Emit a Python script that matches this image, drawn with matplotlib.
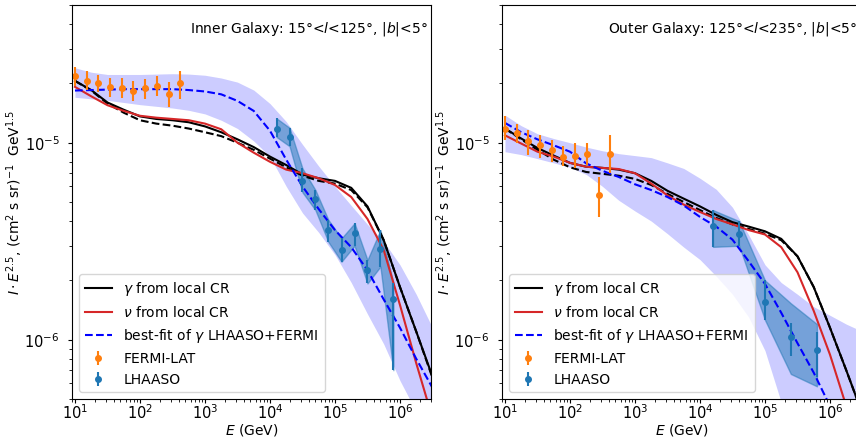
import numpy as np
import matplotlib
matplotlib.use("Agg")
import matplotlib.pyplot as plt

# ---- data ----
# common energy grid for model curves (log10 E / GeV)
loge_curve = [1.0, 1.25, 1.5, 1.75, 2.0, 2.25, 2.5, 2.75, 3.0, 3.25, 3.5, 3.75,
              4.0, 4.25, 4.5, 4.75, 5.0, 5.25, 5.5, 5.75, 6.0, 6.25, 6.5]

# inner galaxy
inner_gamma = [2.06e-5, 1.85e-5, 1.60e-5, 1.47e-5, 1.36e-5, 1.32e-5, 1.30e-5, 1.27e-5,
               1.21e-5, 1.13e-5, 1.04e-5, 9.5e-6, 8.5e-6, 7.7e-6, 6.9e-6, 6.6e-6,
               6.4e-6, 5.9e-6, 4.75e-6, 3.2e-6, 1.85e-6, 1.1e-6, 6.5e-7]
inner_gamma_dash = [2.06e-5, 1.84e-5, 1.58e-5, 1.42e-5, 1.30e-5, 1.25e-5, 1.22e-5, 1.18e-5,
                    1.13e-5, 1.08e-5, 1.0e-5, 9.2e-6, 8.3e-6, 7.5e-6, 6.8e-6, 6.4e-6,
                    6.2e-6, 5.75e-6, 4.7e-6, 3.2e-6, 1.85e-6, 1.1e-6, 6.4e-7]
inner_nu = [1.92e-5, 1.72e-5, 1.55e-5, 1.45e-5, 1.37e-5, 1.34e-5, 1.32e-5, 1.30e-5,
            1.25e-5, 1.17e-5, 1.0e-5, 8.9e-6, 8.0e-6, 7.3e-6, 7.0e-6, 6.6e-6,
            6.1e-6, 5.3e-6, 4.1e-6, 2.85e-6, 1.5e-6, 7.6e-7, 4.0e-7]
inner_fit = [1.84e-5, 1.85e-5, 1.86e-5, 1.87e-5, 1.87e-5, 1.87e-5, 1.87e-5, 1.85e-5,
             1.82e-5, 1.76e-5, 1.63e-5, 1.45e-5, 1.15e-5, 8.2e-6, 6.0e-6, 4.6e-6,
             3.6e-6, 2.95e-6, 2.25e-6, 1.6e-6, 1.15e-6, 8.0e-7, 5.7e-7]
inner_band_hi = [2.40e-5, 2.28e-5, 2.22e-5, 2.22e-5, 2.22e-5, 2.23e-5, 2.24e-5, 2.23e-5,
                 2.20e-5, 2.13e-5, 2.03e-5, 1.85e-5, 1.58e-5, 1.28e-5, 9.8e-6, 7.6e-6,
                 6.0e-6, 4.8e-6, 3.85e-6, 3.15e-6, 2.4e-6, 1.7e-6, 1.15e-6]
inner_band_lo = [1.70e-5, 1.67e-5, 1.64e-5, 1.60e-5, 1.56e-5, 1.53e-5, 1.50e-5, 1.46e-5,
                 1.40e-5, 1.30e-5, 1.18e-5, 1.02e-5, 8.5e-6, 6.0e-6, 4.4e-6, 3.5e-6,
                 2.7e-6, 1.95e-6, 1.35e-6, 9.5e-7, 6.2e-7, 4.3e-7, 3.0e-7]

# outer galaxy
outer_gamma = [1.18e-5, 1.05e-5, 9.4e-6, 8.6e-6, 7.9e-6, 7.55e-6, 7.45e-6, 7.3e-6,
               7.0e-6, 6.4e-6, 5.7e-6, 5.2e-6, 4.75e-6, 4.3e-6, 3.95e-6, 3.75e-6,
               3.55e-6, 3.25e-6, 2.65e-6, 1.85e-6, 1.15e-6, 7.0e-7, 4.2e-7]
outer_gamma_dash = [1.18e-5, 1.04e-5, 9.2e-6, 8.2e-6, 7.5e-6, 7.1e-6, 6.95e-6, 6.8e-6,
                    6.55e-6, 6.1e-6, 5.5e-6, 5.0e-6, 4.55e-6, 4.15e-6, 3.85e-6, 3.65e-6,
                    3.45e-6, 3.2e-6, 2.65e-6, 1.85e-6, 1.15e-6, 7.0e-7, 4.2e-7]
outer_nu = [1.09e-5, 9.9e-6, 9.0e-6, 8.5e-6, 7.9e-6, 7.55e-6, 7.45e-6, 7.35e-6,
            7.0e-6, 6.2e-6, 5.4e-6, 4.85e-6, 4.45e-6, 4.1e-6, 3.85e-6, 3.6e-6,
            3.42e-6, 2.95e-6, 2.2e-6, 1.4e-6, 8.4e-7, 4.6e-7, 2.5e-7]
outer_fit = [1.26e-5, 1.13e-5, 1.04e-5, 9.7e-6, 9.0e-6, 7.85e-6, 7.2e-6, 6.7e-6,
             6.15e-6, 5.75e-6, 5.3e-6, 4.8e-6, 4.2e-6, 3.75e-6, 3.22e-6, 2.5e-6,
             1.92e-6, 1.37e-6, 9.6e-7, 6.8e-7, 4.6e-7, 3.2e-7, 2.2e-7]
outer_band_hi = [1.38e-5, 1.22e-5, 1.11e-5, 1.05e-5, 1.0e-5, 9.5e-6, 9.1e-6, 8.8e-6,
                 8.6e-6, 8.4e-6, 7.9e-6, 7.4e-6, 6.6e-6, 5.8e-6, 4.7e-6, 3.4e-6,
                 2.4e-6, 1.95e-6, 1.7e-6, 1.47e-6, 1.33e-6, 1.2e-6, 1.1e-6]
outer_band_lo = [9.0e-6, 8.7e-6, 8.3e-6, 7.9e-6, 7.5e-6, 6.9e-6, 6.0e-6, 5.1e-6,
                 4.5e-6, 4.0e-6, 3.45e-6, 2.95e-6, 2.55e-6, 2.1e-6, 1.7e-6, 1.3e-6,
                 8.8e-7, 4.8e-7, 2.8e-7, 1.6e-7, 1.0e-7, 1.0e-7, 1.0e-7]

# FERMI-LAT points
fermi_e = [10.0, 15.1, 22.9, 34.7, 52.5, 79.4, 120.0, 182.0, 275.0, 417.0]
fermi_inner = [2.18e-5, 2.05e-5, 2.0e-5, 1.91e-5, 1.90e-5, 1.84e-5, 1.89e-5, 1.95e-5, 1.77e-5, 2.0e-5]
fermi_inner_hi = [2.42e-5, 2.30e-5, 2.21e-5, 2.12e-5, 2.12e-5, 2.06e-5, 2.11e-5, 2.19e-5, 2.03e-5, 2.32e-5]
fermi_inner_lo = [1.95e-5, 1.85e-5, 1.80e-5, 1.70e-5, 1.68e-5, 1.63e-5, 1.67e-5, 1.73e-5, 1.51e-5, 1.67e-5]
fermi_outer = [1.18e-5, 1.12e-5, 1.02e-5, 9.77e-6, 9.19e-6, 8.5e-6, 8.56e-6, 8.75e-6, 5.43e-6, 8.8e-6]
fermi_outer_hi = [1.36e-5, 1.25e-5, 1.16e-5, 1.10e-5, 1.03e-5, 9.6e-6, 9.93e-6, 1.0e-5, 6.7e-6, 1.09e-5]
fermi_outer_lo = [1.03e-5, 9.93e-6, 8.67e-6, 8.35e-6, 7.95e-6, 7.6e-6, 7.45e-6, 7.7e-6, 4.2e-6, 7.0e-6]

# LHAASO points
lhaaso_inner_e = [1.26e4, 2.0e4, 3.16e4, 5.0e4, 7.9e4, 1.26e5, 2.0e5, 3.16e5, 5.0e5, 7.9e5]
lhaaso_inner = [1.18e-5, 1.07e-5, 6.4e-6, 5.2e-6, 3.6e-6, 2.85e-6, 3.5e-6, 2.26e-6, 2.9e-6, 1.6e-6]
lhaaso_inner_hi = [1.33e-5, 1.19e-5, 7.4e-6, 5.75e-6, 4.06e-6, 3.27e-6, 3.9e-6, 2.54e-6, 3.6e-6, 1.95e-6]
lhaaso_inner_lo = [1.07e-5, 9.6e-6, 5.6e-6, 4.55e-6, 3.14e-6, 2.49e-6, 3.0e-6, 1.93e-6, 2.35e-6, 7.0e-7]
lhaaso_outer_e = [1.58e4, 4.0e4, 1.0e5, 2.5e5, 6.3e5]
lhaaso_outer = [3.77e-6, 3.44e-6, 1.56e-6, 1.03e-6, 8.9e-7]
lhaaso_outer_hi = [4.55e-6, 4.0e-6, 2.0e-6, 1.21e-6, 1.1e-6]
lhaaso_outer_lo = [2.96e-6, 3.0e-6, 1.26e-6, 8.3e-7, 6.5e-7]
lhaaso_outer_fill_hi = [4.55e-6, 4.0e-6, 2.0e-6, 1.53e-6, 1.2e-6]
lhaaso_outer_fill_lo = [2.96e-6, 3.0e-6, 1.26e-6, 6.7e-7, 5.8e-7]

panels = [
    dict(title=r"Inner Galaxy: 15°<$l$<125°, $|b|$<5°", gamma=inner_gamma,
         gamma_dash=inner_gamma_dash, nu=inner_nu, fit=inner_fit,
         band_hi=inner_band_hi, band_lo=inner_band_lo,
         fermi=fermi_inner, fermi_hi=fermi_inner_hi, fermi_lo=fermi_inner_lo,
         lh_e=lhaaso_inner_e, lh=lhaaso_inner, lh_hi=lhaaso_inner_hi, lh_lo=lhaaso_inner_lo,
         lh_fhi=lhaaso_inner_hi, lh_flo=lhaaso_inner_lo),
    dict(title=r"Outer Galaxy: 125°<$l$<235°, $|b|$<5°", gamma=outer_gamma,
         gamma_dash=outer_gamma_dash, nu=outer_nu, fit=outer_fit,
         band_hi=outer_band_hi, band_lo=outer_band_lo,
         fermi=fermi_outer, fermi_hi=fermi_outer_hi, fermi_lo=fermi_outer_lo,
         lh_e=lhaaso_outer_e, lh=lhaaso_outer, lh_hi=lhaaso_outer_hi, lh_lo=lhaaso_outer_lo,
         lh_fhi=lhaaso_outer_fill_hi, lh_flo=lhaaso_outer_fill_lo),
]

W, H = 856, 440
fig = plt.figure(figsize=(W / 100, H / 100), dpi=100)
lefts = [72, 502]
e_curve = 10 ** np.array(loge_curve)

for left, p in zip(lefts, panels):
    ax = fig.add_axes([left / W, 41 / H, 359 / W, 394 / H])

    ax.fill_between(e_curve, p["band_lo"], p["band_hi"], color="blue", alpha=0.2, lw=0)
    ax.plot(e_curve, p["gamma"], color="k", lw=1.5, label=r"$\gamma$ from local CR")
    ax.plot(e_curve, p["gamma_dash"], color="k", ls="--", lw=1.5)
    ax.plot(e_curve, p["nu"], color="tab:red", lw=1.5, label=r"$\nu$ from local CR")
    ax.plot(e_curve, p["fit"], color="blue", ls="--", lw=1.5,
            label=r"best-fit of $\gamma$ LHAASO+FERMI")

    v = np.array(p["fermi"])
    ax.errorbar(fermi_e, v, yerr=[v - np.array(p["fermi_lo"]), np.array(p["fermi_hi"]) - v],
                fmt="o", ms=4, color="tab:orange", label="FERMI-LAT")

    v = np.array(p["lh"])
    ax.fill_between(p["lh_e"], p["lh_flo"], p["lh_fhi"], color="tab:blue", alpha=0.5, lw=1)
    ax.errorbar(p["lh_e"], v, yerr=[v - np.array(p["lh_lo"]), np.array(p["lh_hi"]) - v],
                fmt="o", ms=4, color="tab:blue", label="LHAASO")

    ax.set_xscale("log")
    ax.set_yscale("log")
    ax.set_xlim(9, 3e6)
    ax.set_ylim(5e-7, 5e-5)
    ax.tick_params(which="major", length=3, labelsize=10.5)
    ax.tick_params(which="minor", length=2)
    ax.tick_params(axis="x", which="major", pad=0)
    ax.tick_params(axis="y", which="major", pad=6)
    ax.set_xlabel(r"$E$ (GeV)", fontsize=10, labelpad=0)
    ax.set_ylabel(r"$I\cdot E^{2.5}$, (cm$^2$ s sr)$^{-1}$  GeV$^{1.5}$")
    ax.yaxis.set_label_coords(-0.13, 0.5)
    ax.text(0.99, 0.94, p["title"], transform=ax.transAxes, ha="right", va="center",
            fontsize=10)
    ax.legend(loc="lower left", fontsize=10)

fig.savefig("out.png", dpi=100)
